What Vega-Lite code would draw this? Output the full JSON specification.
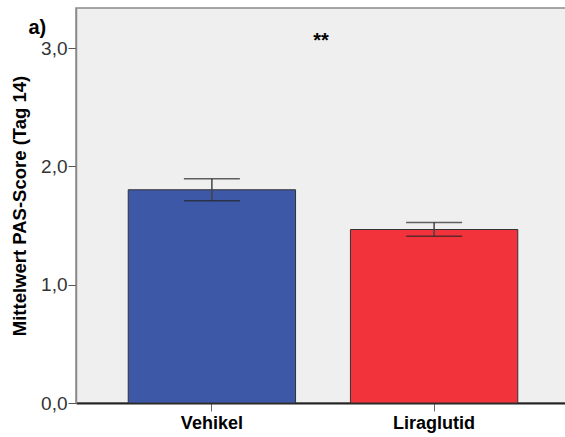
{
  "$schema": "https://vega.github.io/schema/vega-lite/v6.json",
  "autosize": "none",
  "width": 494,
  "height": 395,
  "padding": {"left": 76, "top": 8, "right": 0, "bottom": 34},
  "background": "white",
  "config": {
    "font": "Liberation Sans",
    "view": {"fill": "#efefef", "stroke": "#8a8a8a", "strokeWidth": 1.5}
  },
  "data": {
    "values": [
      {"gruppe": "Vehikel", "mittel": 1.803, "lo": 1.71, "hi": 1.896},
      {"gruppe": "Liraglutid", "mittel": 1.467, "lo": 1.41, "hi": 1.526}
    ]
  },
  "layer": [
    {
      "mark": {"type": "bar", "stroke": "#333333", "strokeWidth": 1},
      "encoding": {
        "x": {
          "field": "gruppe",
          "type": "nominal",
          "sort": ["Vehikel", "Liraglutid"],
          "scale": {"paddingInner": 0.247, "paddingOuter": 0.235},
          "axis": {
            "title": "a)",
            "titleX": -48,
            "titleY": -370,
            "titleAlign": "left",
            "titleBaseline": "alphabetic",
            "titleAngle": 0,
            "titleFontSize": 20,
            "titleFontWeight": "bold",
            "titleColor": "#000000",
            "labelAngle": 0,
            "labelFontSize": 18,
            "labelFontWeight": "bold",
            "labelColor": "#000000",
            "labelPadding": 3,
            "tickSize": 8,
            "tickColor": "#666666",
            "domainColor": "#222222",
            "domainWidth": 2
          }
        },
        "y": {
          "field": "mittel",
          "type": "quantitative",
          "scale": {"domain": [0, 3.34], "nice": false},
          "axis": {
            "title": "Mittelwert PAS-Score (Tag 14)",
            "titleFontSize": 18.5,
            "titleFontWeight": "bold",
            "titleColor": "#000000",
            "titlePadding": 11,
            "values": [0, 1, 2, 3],
            "labelExpr": "replace(format(datum.value, '.1f'), '.', ',')",
            "labelFontSize": 19,
            "labelColor": "#333333",
            "labelPadding": 1,
            "tickSize": 8,
            "tickColor": "#555555",
            "domainColor": "#8a8a8a",
            "domainWidth": 1.5,
            "grid": false
          }
        },
        "color": {
          "field": "gruppe",
          "type": "nominal",
          "scale": {"domain": ["Vehikel", "Liraglutid"], "range": ["#3e58a8", "#f2333c"]},
          "legend": null
        }
      }
    },
    {
      "mark": {"type": "rule", "color": "#444444", "strokeWidth": 1.5},
      "encoding": {
        "x": {"field": "gruppe", "type": "nominal", "sort": ["Vehikel", "Liraglutid"]},
        "y": {"field": "lo", "type": "quantitative"},
        "y2": {"field": "hi"}
      }
    },
    {
      "mark": {"type": "tick", "orient": "horizontal", "size": 56, "thickness": 1.5, "color": "#222222"},
      "encoding": {
        "x": {"field": "gruppe", "type": "nominal", "sort": ["Vehikel", "Liraglutid"]},
        "y": {"field": "lo", "type": "quantitative"}
      }
    },
    {
      "mark": {"type": "tick", "orient": "horizontal", "size": 56, "thickness": 1.5, "color": "#222222"},
      "encoding": {
        "x": {"field": "gruppe", "type": "nominal", "sort": ["Vehikel", "Liraglutid"]},
        "y": {"field": "hi", "type": "quantitative"}
      }
    },
    {
      "data": {"values": [{"label": "**", "pos": 3.06}]},
      "mark": {"type": "text", "fontSize": 20, "fontWeight": "bold", "color": "#000000", "dx": -2, "baseline": "middle"},
      "encoding": {
        "y": {"field": "pos", "type": "quantitative"},
        "text": {"field": "label"}
      }
    }
  ]
}
